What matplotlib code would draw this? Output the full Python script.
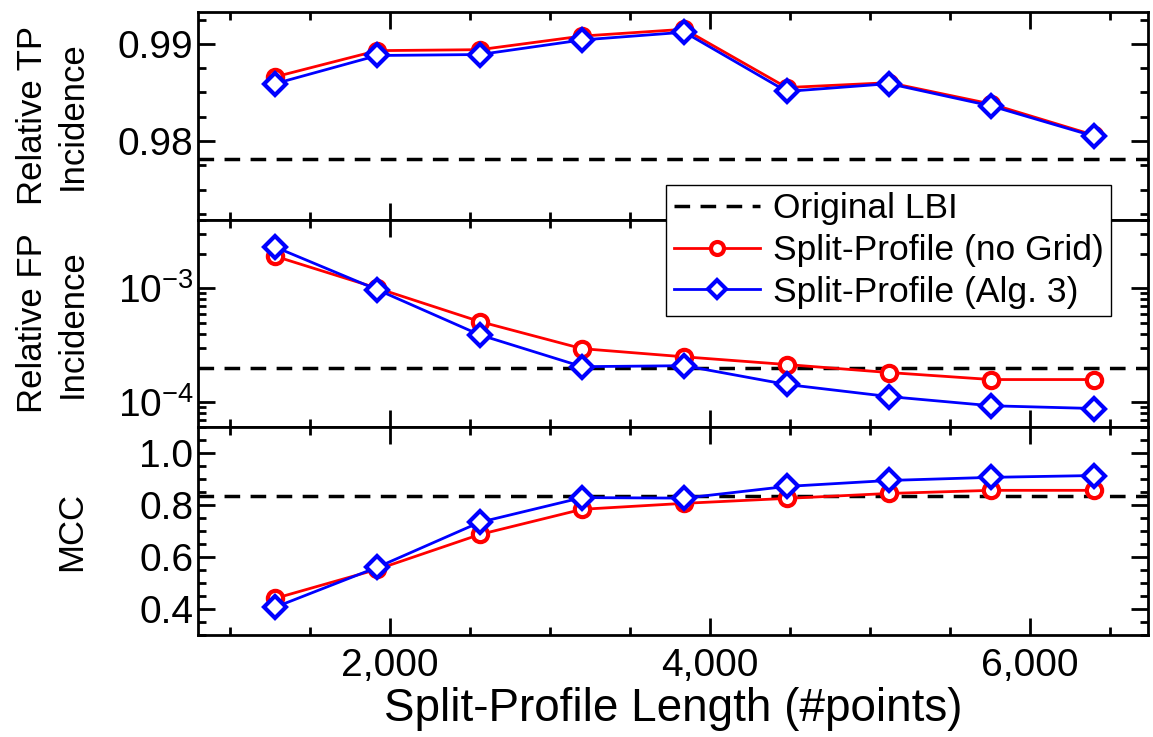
import matplotlib
matplotlib.use("Agg")
import matplotlib.pyplot as plt
from matplotlib.ticker import MultipleLocator, FuncFormatter, LogLocator
import numpy as np

plt.rcParams['font.family'] = ['Liberation Sans', 'DejaVu Sans']
plt.rcParams['mathtext.fontset'] = 'custom'
plt.rcParams['mathtext.rm'] = 'Liberation Sans'
plt.rcParams['mathtext.it'] = 'Liberation Sans'
plt.rcParams['mathtext.default'] = 'regular'

# split-profile length (#points)
lengths = [1280, 1920, 2560, 3200, 3840, 4480, 5120, 5760, 6400]

# relative TP incidence
tp_nogrid = [0.9866, 0.9893, 0.9894, 0.9908, 0.9915, 0.9855, 0.9860, 0.9838, 0.9806]
tp_alg3 = [0.9859, 0.9888, 0.9889, 0.9904, 0.9912, 0.9851, 0.9859, 0.9836, 0.9805]
tp_lbi = 0.9781

# relative FP incidence
fp_nogrid = [1.91e-3, 1.0e-3, 5.1e-4, 2.95e-4, 2.5e-4, 2.14e-4, 1.82e-4, 1.58e-4, 1.58e-4]
fp_alg3 = [2.3e-3, 0.97e-3, 3.9e-4, 2.05e-4, 2.09e-4, 1.43e-4, 1.12e-4, 9.3e-5, 8.8e-5]
fp_lbi = 2.0e-4

# MCC
mcc_nogrid = [0.442, 0.554, 0.688, 0.785, 0.808, 0.827, 0.846, 0.858, 0.858]
mcc_alg3 = [0.408, 0.562, 0.735, 0.830, 0.828, 0.873, 0.896, 0.908, 0.915]
mcc_lbi = 0.836

labels = ['Original LBI', 'Split-Profile (no Grid)', 'Split-Profile (Alg. 3)']

fig = plt.figure(figsize=(11.53, 7.37), dpi=100)
gs = fig.add_gridspec(3, 1, left=0.172, right=0.9957, bottom=0.138, top=0.984, hspace=0)
ax_tp = fig.add_subplot(gs[0])
ax_fp = fig.add_subplot(gs[1], sharex=ax_tp)
ax_mcc = fig.add_subplot(gs[2], sharex=ax_tp)

red_style = dict(color='#ff0000', lw=2, marker='o', ms=11, mfc='white', mec='#ff0000', mew=3)
blue_style = dict(color='#0000ff', lw=2, marker='D', ms=11, mfc='white', mec='#0000ff', mew=3)
dash_style = dict(color='black', lw=2.5, ls=(0, (4.5, 3)))

panels = [
    (ax_tp, tp_nogrid, tp_alg3, tp_lbi),
    (ax_fp, fp_nogrid, fp_alg3, fp_lbi),
    (ax_mcc, mcc_nogrid, mcc_alg3, mcc_lbi),
]
for ax, red, blue, lbi in panels:
    h0 = ax.axhline(lbi, **dash_style)
    h1, = ax.plot(lengths, red, **red_style)
    h2, = ax.plot(lengths, blue, **blue_style)
    for s in ax.spines.values():
        s.set_linewidth(2)
    ax.tick_params(which='both', direction='in', top=True, right=True, width=2, labelsize=28)
    ax.tick_params(which='major', length=12)
    ax.tick_params(which='minor', length=6)
    ax.tick_params(axis='x', pad=9)

ax_tp.set_ylim(0.9719, 0.9933)
ax_tp.yaxis.set_major_locator(MultipleLocator(0.01))
ax_tp.yaxis.set_minor_locator(MultipleLocator(0.0025))
ax_tp.yaxis.set_major_formatter(FuncFormatter(lambda v, p: f"{v:.2f}"))

ax_fp.set_yscale('log')
ax_fp.set_ylim(6e-5, 4e-3)
ax_fp.yaxis.set_major_locator(LogLocator(base=10, numticks=10))
ax_fp.yaxis.set_minor_locator(LogLocator(base=10, subs=np.arange(2, 10), numticks=20))

ax_mcc.set_ylim(0.3, 1.1)
ax_mcc.yaxis.set_major_locator(MultipleLocator(0.2))
ax_mcc.yaxis.set_minor_locator(MultipleLocator(0.05))
ax_mcc.yaxis.set_major_formatter(FuncFormatter(lambda v, p: f"{v:.1f}"))

ax_mcc.set_xlim(800, 6740)
ax_mcc.xaxis.set_major_locator(MultipleLocator(2000))
ax_mcc.xaxis.set_minor_locator(MultipleLocator(500))
ax_mcc.xaxis.set_major_formatter(FuncFormatter(lambda v, p: f"{int(v):,}"))
ax_tp.tick_params(labelbottom=False)
ax_fp.tick_params(labelbottom=False)

ax_tp.set_ylabel('Relative TP\nIncidence', fontsize=25, linespacing=1.25, labelpad=21)
ax_fp.set_ylabel('Relative FP\nIncidence', fontsize=25, linespacing=1.25, labelpad=21)
ax_mcc.set_ylabel('MCC', fontsize=25, labelpad=21)
ax_mcc.set_xlabel('Split-Profile Length (#points)', fontsize=33, labelpad=2)
fig.align_ylabels([ax_tp, ax_fp, ax_mcc])

leg = ax_fp.legend([h0, h1, h2], labels, loc='upper left', bbox_to_anchor=(0.578, 0.749),
                   bbox_transform=fig.transFigure, fontsize=25.5, frameon=True, fancybox=False,
                   edgecolor='black', framealpha=1, handlelength=2.45, borderpad=0.2,
                   labelspacing=0.25, handletextpad=0.35, borderaxespad=0, markerscale=0.85)
leg.get_frame().set_linewidth(1)
leg.set_zorder(10)

fig.savefig('out.png', dpi=100)
